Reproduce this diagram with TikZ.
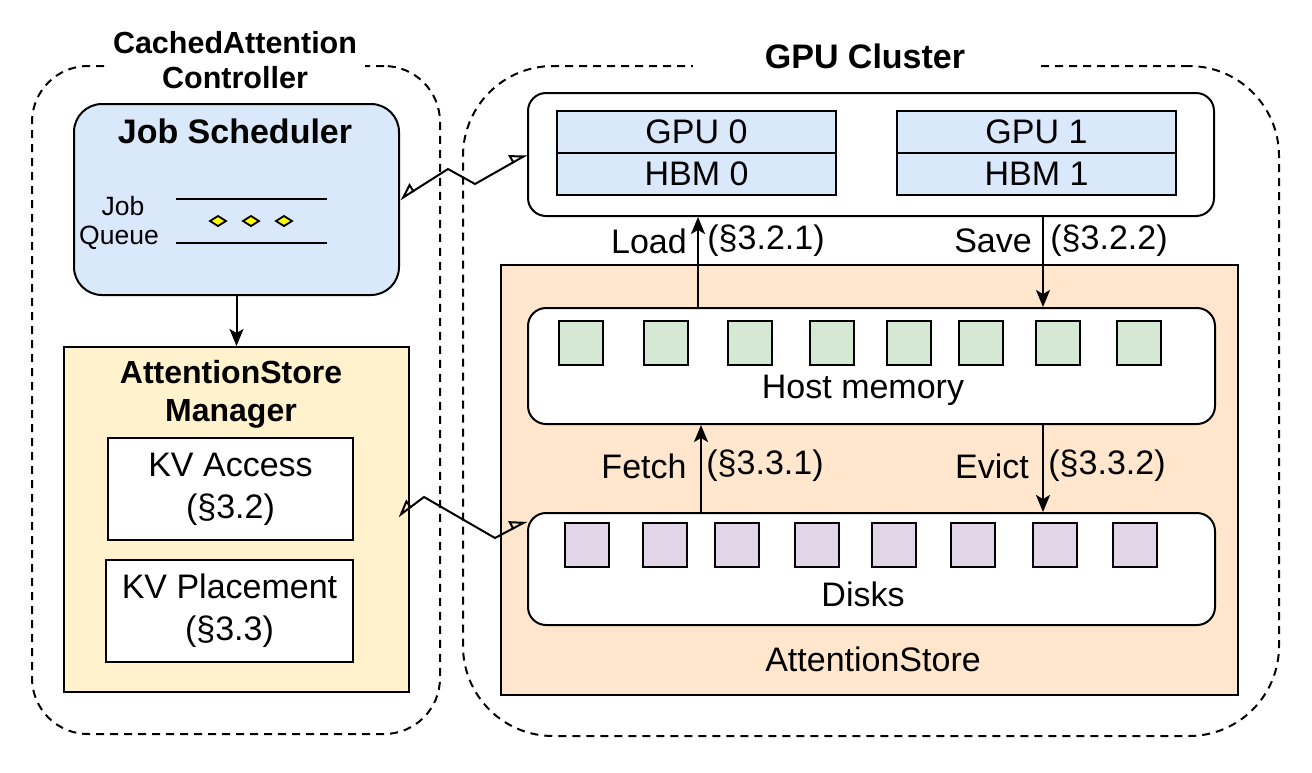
\documentclass[tikz,border=0pt]{standalone}
\usepackage{fontspec}
\setmainfont{Liberation Sans}
\usetikzlibrary{arrows.meta,calc}
\definecolor{cblue}{HTML}{DAE8FC}
\definecolor{cyellow}{HTML}{FFF2CC}
\definecolor{cpeach}{HTML}{FFE6CC}
\definecolor{cgreen}{HTML}{D5E8D4}
\definecolor{cpurple}{HTML}{E1D5E7}
\definecolor{cdiam}{HTML}{FFFF00}
\begin{document}
\begin{tikzpicture}[x=1pt,y=-1pt,
  every node/.style={font=\fontsize{34}{40}\selectfont, inner sep=0pt},
  box/.style={draw, line width=2pt, anchor=north west, inner sep=0pt},
  cont/.style={draw, line width=2pt, dash pattern=on 8pt off 6pt, anchor=north west, inner sep=0pt},
  sq/.style={draw, line width=2pt, minimum width=44pt, minimum height=44pt, anchor=north},
  titleA/.style={font=\fontsize{30.5}{35}\selectfont\bfseries, align=center},
  titleB/.style={font=\fontsize{34}{40}\selectfont\bfseries},
  small/.style={font=\fontsize{26.5}{30}\selectfont},
  arr/.style={line width=2pt, -{Stealth[length=17pt,width=14pt,inset=4pt]}},
  zz/.style={line width=2pt, {Triangle[open,right,length=15pt,width=17pt]}-{Triangle[open,left,length=15pt,width=17pt]}}
]
\useasboundingbox (0,0) rectangle (1312,772);

% containers
\node[cont, minimum width=408pt, minimum height=668pt, rounded corners=56pt] (ctrl) at (31,65) {};
\node[cont, minimum width=816pt, minimum height=670pt, rounded corners=90pt] (cluster) at (462,65) {};
\node[titleA, fill=white, inner xsep=8pt, inner ysep=3pt] (ctrlt) at (235,60) {CachedAttention\\Controller};
\node[titleB, fill=white, inner xsep=72pt, inner ysep=6pt] (clust) at (865,56) {GPU Cluster};

% job scheduler
\node[box, fill=cblue, rounded corners=28pt, minimum width=325pt, minimum height=191pt] (js) at (73,103) {};
\node[titleB] (jst) at (235,131) {Job Scheduler};
\node[small] (jobl) at (123,206) {Job};
\node[small] (queuel) at (119,238) {Queue};
\coordinate (ql1a) at (176,199); \coordinate (ql1b) at (327,199);
\coordinate (ql2a) at (176,243); \coordinate (ql2b) at (327,243);
\draw[line width=2pt] (ql1a) -- (ql1b);
\draw[line width=2pt] (ql2a) -- (ql2b);
\foreach \i/\x in {1/218,2/251,3/284}{
  \draw[line width=1.8pt, fill=cdiam] (\x-8,221) -- (\x,216) -- (\x+8,221) -- (\x,226) -- cycle;
}

% manager
\node[box, fill=cyellow, minimum width=345pt, minimum height=345pt] (mgr) at (63,346) {};
\node[titleA, font=\fontsize{32}{38}\selectfont\bfseries] (mgrt) at (231,394) {AttentionStore\\Manager};
\node[box, fill=white, minimum width=245pt, minimum height=102pt] (kva) at (107,437) {};
\node[align=center, font=\fontsize{34}{42}\selectfont] (kvat) at (kva.center) {KV Access\\(§3.2)};
\node[box, fill=white, minimum width=247pt, minimum height=102pt] (kvp) at (105,559) {};
\node[align=center, font=\fontsize{34}{42}\selectfont] (kvpt) at (kvp.center) {KV Placement\\(§3.3)};
\draw[arr] (js.south) -- (mgr.north);

% GPU box
\node[box, fill=white, rounded corners=18pt, minimum width=686pt, minimum height=123pt] (gpus) at (527,92) {};
\node[box, fill=cblue, minimum width=279pt, minimum height=42pt] (gpu0) at (556,110) {};
\node[box, fill=cblue, minimum width=279pt, minimum height=42pt] (hbm0) at (556,152) {};
\node[box, fill=cblue, minimum width=279pt, minimum height=42pt] (gpu1) at (896,110) {};
\node[box, fill=cblue, minimum width=279pt, minimum height=42pt] (hbm1) at (896,152) {};
\node at (gpu0.center) {GPU 0};
\node at (hbm0.center) {HBM 0};
\node at (gpu1.center) {GPU 1};
\node at (hbm1.center) {HBM 1};

% AttentionStore
\node[box, fill=cpeach, minimum width=737pt, minimum height=430pt] (astore) at (500,264) {};
\node (astoret) at (873,659) {AttentionStore};
\node[box, fill=white, rounded corners=18pt, minimum width=687pt, minimum height=116pt] (host) at (527,307) {};
\node (hostt) at (863,390) {Host memory};
\foreach \i/\x in {1/581,2/666,3/750,4/832,5/909,6/981,7/1058,8/1139}{
  \node[sq, fill=cgreen] (hm\i) at (\x,320) {};
}
\node[box, fill=white, rounded corners=18pt, minimum width=687pt, minimum height=112pt] (disks) at (527,512) {};
\node (diskst) at (863,594) {Disks};
\foreach \i/\x in {1/587,2/665,3/737,4/817,5/894,6/973,7/1055,8/1135}{
  \node[sq, fill=cpurple] (dk\i) at (\x,522) {};
}

% vertical arrows
\coordinate (xload) at (698,0);
\coordinate (xsave) at (1043,0);
\coordinate (xfetch) at (701,0);
\coordinate (xevict) at (1043,0);
\draw[arr] (host.north -| xload) -- (gpus.south -| xload);
\draw[arr] (gpus.south -| xsave) -- (host.north -| xsave);
\draw[arr] (disks.north -| xfetch) -- (host.south -| xfetch);
\draw[arr] (host.south -| xevict) -- (disks.north -| xevict);
\node (loadl) at (649,241) {Load};
\node (loadr) at (766,241) {(§3.2.1)};
\node (savel) at (993,241) {Save};
\node (saver) at (1109,241) {(§3.2.2)};
\node (fetchl) at (644,466) {Fetch};
\node (fetchr) at (765,466) {(§3.3.1)};
\node (evictl) at (992,466) {Evict};
\node (evictr) at (1107,466) {(§3.3.2)};

% zigzag connectors
\coordinate (z1a) at (448,169);
\coordinate (z1b) at (475,184);
\draw[zz] (js.east) -- (z1a) -- (z1b) -- (gpus.west);
\coordinate (z2a) at (424,497);
\coordinate (z2b) at (495,538);
\coordinate (dkin) at ($(disks.north west)+(0,9)$);
\coordinate (mgrin) at ($(mgr.east)+(-12,-3)$);
\draw[zz] (mgrin) -- (z2a) -- (z2b) -- (dkin);
\end{tikzpicture}
\end{document}
